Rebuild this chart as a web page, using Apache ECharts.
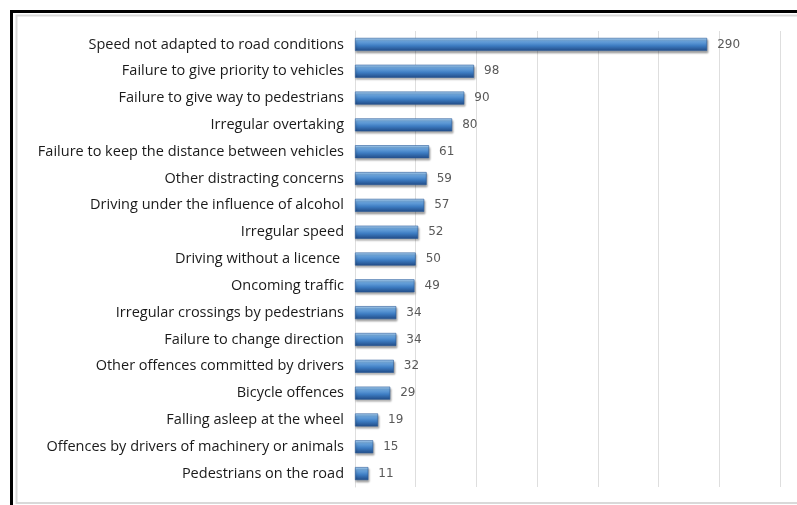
<!DOCTYPE html>
<html>
<head>
<meta charset="utf-8">
<style>
  html, body { margin: 0; padding: 0; background: #fff; }
  #chart { width: 797px; height: 505px; }
</style>
<script src="https://cdn.jsdelivr.net/npm/echarts@6/dist/echarts.min.js"></script>
</head>
<body>
<div id="chart"></div>
<script>
// Causes of road accidents, ordered by count
const causes = [
  'Speed not adapted to road conditions',
  'Failure to give priority to vehicles',
  'Failure to give way to pedestrians',
  'Irregular overtaking',
  'Failure to keep the distance between vehicles',
  'Other distracting concerns',
  'Driving under the influence of alcohol',
  'Irregular speed',
  'Driving without a licence ',
  'Oncoming traffic',
  'Irregular crossings by pedestrians',
  'Failure to change direction',
  'Other offences committed by drivers',
  'Bicycle offences',
  'Falling asleep at the wheel',
  'Offences by drivers of machinery or animals',
  'Pedestrians on the road'
];
const counts = [290, 98, 90, 80, 61, 59, 57, 52, 50, 49, 34, 34, 32, 29, 19, 15, 11];

const axisMin = 0;
const axisMax = 350;
const axisStep = 50;

const chart = echarts.init(document.getElementById('chart'));

const barFill = new echarts.graphic.LinearGradient(0, 0, 0, 1, [
  { offset: 0, color: '#b3d6f4' },
  { offset: 0.22, color: '#6fa9e1' },
  { offset: 0.6, color: '#3d7cc2' },
  { offset: 1, color: '#214b86' }
]);

chart.setOption({
  animation: false,
  grid: { left: 355, right: 17, top: 31, bottom: 18, containLabel: false },
  xAxis: {
    type: 'value',
    min: axisMin,
    max: axisMax,
    interval: axisStep,
    axisLabel: { show: false },
    axisLine: { show: false },
    axisTick: { show: false },
    splitLine: { show: true, lineStyle: { color: '#dedede', width: 1 } }
  },
  yAxis: {
    type: 'category',
    data: causes,
    inverse: true,
    axisLine: { show: true, lineStyle: { color: '#dedede', width: 1 } },
    axisTick: { show: false },
    axisLabel: {
      color: '#1a1a1a',
      fontFamily: 'Open Sans',
      fontSize: 14.5,
      margin: 11
    }
  },
  series: [{
    type: 'bar',
    data: counts,
    barWidth: 13,
    itemStyle: {
      color: barFill,
      borderColor: '#2a5a98',
      borderWidth: 0.6,
      shadowColor: 'rgba(0,0,0,0.35)',
      shadowBlur: 2,
      shadowOffsetX: 1,
      shadowOffsetY: 2
    },
    label: {
      show: true,
      position: 'right',
      distance: 10,
      color: '#595959',
      fontFamily: 'DejaVu Sans',
      fontSize: 12
    }
  }],
  graphic: [
    // light inner frame
    { type: 'rect', silent: true, shape: { x: 16.5, y: 15.5, width: 800, height: 487.5 },
      style: { fill: 'none', stroke: '#d9d9d9', lineWidth: 2 } },
    // heavy outer frame, top and left edges
    { type: 'line', silent: true, shape: { x1: 10, y1: 11.5, x2: 797, y2: 11.5 },
      style: { stroke: '#000', lineWidth: 3 } },
    { type: 'line', silent: true, shape: { x1: 11.5, y1: 10, x2: 11.5, y2: 505 },
      style: { stroke: '#000', lineWidth: 3 } }
  ]
});
</script>
</body>
</html>
